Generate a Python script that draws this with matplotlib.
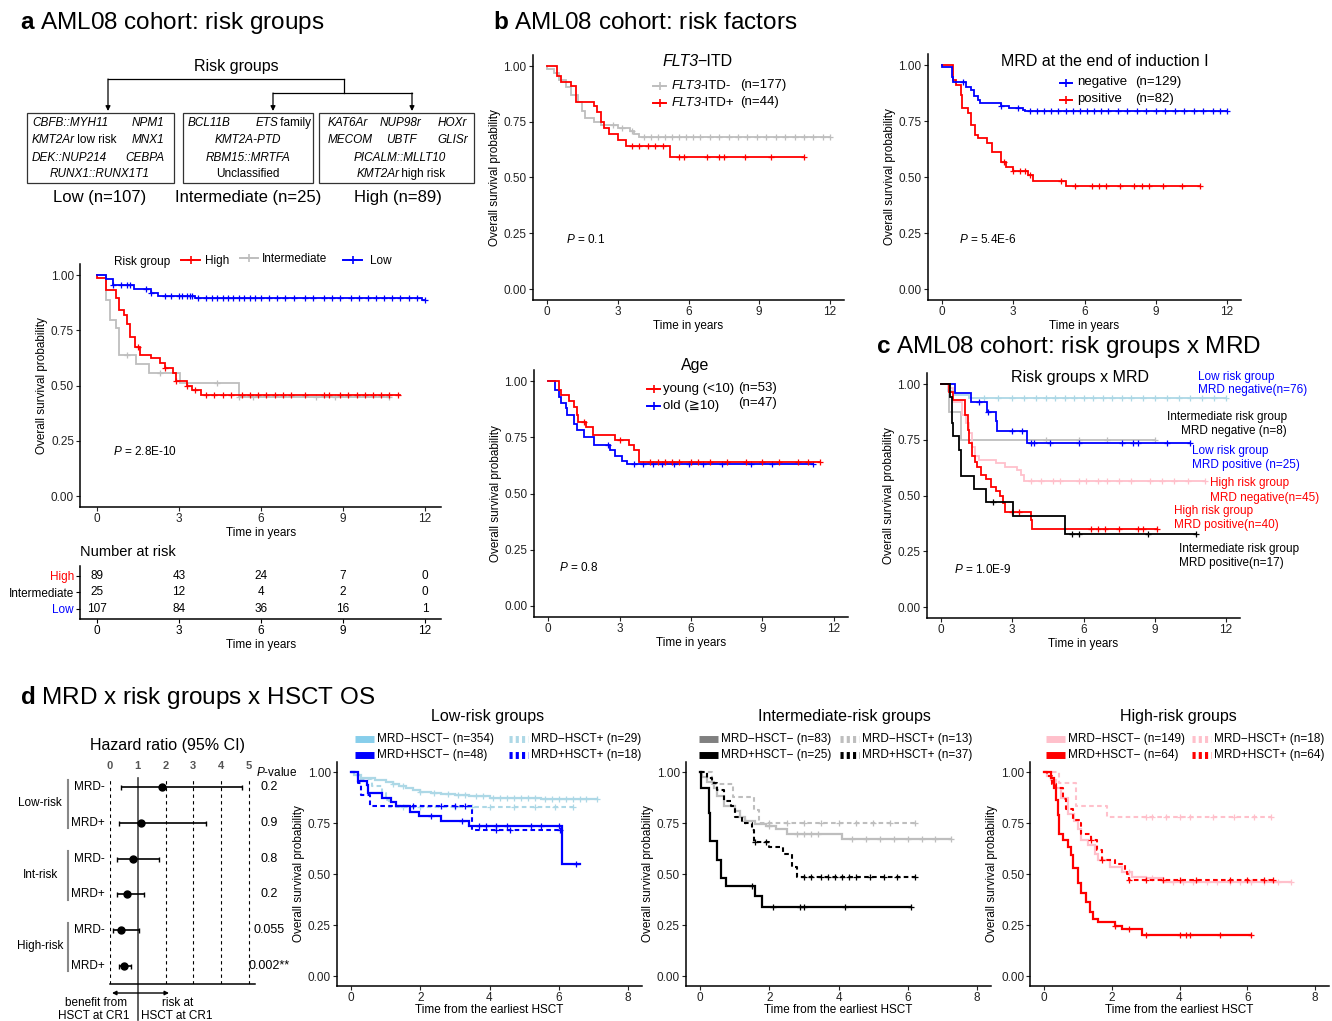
import numpy as np
import matplotlib
matplotlib.use("Agg")
import matplotlib.pyplot as plt
from matplotlib.patches import Rectangle

plt.rcParams['font.family'] = ['Liberation Sans', 'DejaVu Sans', 'Noto Sans CJK JP']
plt.rcParams['mathtext.fontset'] = 'custom'
plt.rcParams['mathtext.rm'] = 'Liberation Sans'
plt.rcParams['mathtext.it'] = 'Liberation Sans:italic'
plt.rcParams['mathtext.bf'] = 'Liberation Sans:bold'

RED, BLUE, GREY = '#FF0000', '#0000FF', '#BEBEBE'
LBLUE, PINK = '#ADD8E6', '#FFC0CB'

# ---------------- data ----------------
# a: risk groups (drop times / survival after drop / last follow-up / censor times)
a_low_t = [0.35, 0.6, 1.35, 2.0, 2.25, 3.6, 11.9]
a_low_s = [0.98, 0.955, 0.935, 0.92, 0.905, 0.894, 0.885]
a_low_end = 12.0
a_low_c = [0.6, 0.9, 1.1, 1.2, 1.8, 2.0, 2.5, 2.7, 3.0, 3.1, 3.3, 3.4, 3.5, 3.7, 4.0, 4.2, 4.4,
           4.6, 4.8, 5.0, 5.2, 5.4, 5.6, 5.8, 6.0, 6.3, 6.6, 6.9, 7.2, 7.6, 7.9, 8.3, 8.6,
           8.9, 9.3, 9.6, 9.9, 10.2, 10.5, 10.8, 11.1, 11.4, 11.7, 12.0]
a_high_t = [0.0, 0.35, 0.7, 0.8, 1.0, 1.1, 1.2, 1.4, 1.6, 2.0, 2.3, 2.5, 2.8, 2.9, 3.3, 3.5, 3.8]
a_high_s = [0.985, 0.93, 0.894, 0.84, 0.82, 0.78, 0.72, 0.676, 0.64, 0.623, 0.6, 0.578,
            0.555, 0.522, 0.5, 0.48, 0.457]
a_high_end = 11.1
a_high_c = [1.5, 2.5, 2.9, 3.3, 3.6, 4.0, 4.3, 4.6, 4.9, 5.3, 5.6, 5.9, 6.2, 6.5, 6.8, 7.1,
            7.6, 8.3, 8.5, 8.9, 9.2, 9.5, 9.8, 10.1, 10.4, 10.7, 11.0]
a_int_t = [0.35, 0.5, 0.72, 0.8, 1.45, 1.9, 3.05, 5.2]
a_int_s = [0.887, 0.796, 0.759, 0.638, 0.597, 0.555, 0.51, 0.446]
a_int_end = 10.7
a_int_c = [1.1, 2.3, 4.4, 5.2, 5.7, 8.0, 8.7, 10.7]

risk_times = [0, 3, 6, 9, 12]
nrisk_high = [89, 43, 24, 7, 0]
nrisk_int = [25, 12, 4, 2, 0]
nrisk_low = [107, 84, 36, 16, 1]

# b: FLT3-ITD
flt_neg_t = [0.0, 0.3, 0.5, 0.8, 1.0, 1.3, 1.5, 1.6, 2.0, 2.3, 3.0, 3.5, 3.7, 3.9]
flt_neg_s = [0.988, 0.97, 0.936, 0.906, 0.87, 0.84, 0.80, 0.765, 0.75, 0.735, 0.72, 0.71, 0.697, 0.68]
flt_neg_end = 12.0
flt_neg_c = [2.8, 3.2, 3.6, 4.1, 4.4, 4.7, 5.0, 5.3, 5.6, 5.9, 6.2, 6.5, 6.9, 7.3, 7.7, 8.1,
             8.5, 8.9, 9.3, 9.7, 10.1, 10.5, 10.9, 11.3, 11.7, 12.0]
flt_pos_t = [0.42, 0.6, 1.0, 1.25, 2.0, 2.1, 2.3, 2.4, 2.63, 3.0, 3.35, 5.2]
flt_pos_s = [0.954, 0.93, 0.91, 0.84, 0.82, 0.794, 0.75, 0.72, 0.697, 0.668, 0.64, 0.593]
flt_pos_end = 10.9
flt_pos_c = [3.6, 3.9, 4.3, 4.6, 4.9, 5.6, 5.8, 6.8, 7.3, 7.5, 8.4, 9.5, 10.9]

# b: MRD at end of induction I
mrd_neg_t = [0.0, 0.4, 0.45, 1.0, 1.2, 1.35, 1.5, 1.6, 2.5, 2.8, 3.4, 3.5]
mrd_neg_s = [0.99, 0.948, 0.926, 0.903, 0.888, 0.862, 0.844, 0.829, 0.818, 0.81, 0.80, 0.795]
mrd_neg_end = 12.0
mrd_neg_c = [0.9, 2.5, 3.2, 3.7, 4.0, 4.3, 4.6, 4.9, 5.2, 5.5, 5.8, 6.1, 6.4, 6.7, 7.0, 7.4,
             7.8, 8.2, 8.6, 9.0, 9.4, 9.8, 10.2, 10.6, 11.0, 11.4, 11.7, 12.0]
mrd_pos_t = [0.45, 0.6, 0.8, 0.85, 1.1, 1.2, 1.4, 1.5, 1.9, 2.1, 2.5, 2.7, 3.0, 3.6, 3.85, 5.2]
mrd_pos_s = [0.933, 0.91, 0.866, 0.807, 0.784, 0.732, 0.688, 0.673, 0.65, 0.61, 0.568, 0.543,
             0.527, 0.51, 0.48, 0.46]
mrd_pos_end = 10.85
mrd_pos_c = [2.6, 3.0, 3.3, 3.5, 3.7, 5.0, 5.6, 6.3, 6.6, 6.9, 7.5, 8.1, 8.4, 8.7, 9.3, 10.1, 10.85]

# b: age
age_y_t = [0.45, 0.55, 0.9, 1.1, 1.2, 1.25, 1.6, 1.9, 2.8, 3.4, 3.6, 3.8]
age_y_s = [0.96, 0.94, 0.911, 0.883, 0.85, 0.82, 0.797, 0.76, 0.738, 0.715, 0.693, 0.638]
age_y_end = 11.4
age_y_c = [1.5, 3.0, 4.3, 4.6, 4.9, 5.2, 5.5, 6.0, 6.3, 6.8, 7.5, 8.3, 9.0, 9.7, 10.5, 10.9, 11.4]
age_o_t = [0.3, 0.45, 0.55, 0.75, 0.8, 1.1, 1.2, 1.5, 1.95, 2.6, 2.8, 3.1, 3.3]
age_o_s = [0.96, 0.93, 0.90, 0.878, 0.849, 0.81, 0.782, 0.749, 0.715, 0.693, 0.666, 0.645, 0.629]
age_o_end = 11.1
age_o_c = [2.5, 3.6, 4.0, 4.4, 4.8, 5.3, 5.9, 6.5, 7.3, 8.5, 9.4, 11.1]

# c: risk group x MRD
c_lowneg_t = [0.3, 0.6, 1.2]
c_lowneg_s = [0.97, 0.95, 0.936]
c_lowneg_end = 12.0
c_lowneg_c = [1.8, 2.4, 3.0, 3.5, 4.0, 4.4, 4.8, 5.2, 5.6, 6.0, 6.4, 6.8, 7.2, 7.6, 8.0, 8.5,
              9.0, 9.5, 10.0, 10.5, 11.0, 11.5, 12.0]
c_lowpos_t = [0.6, 1.25, 1.95, 2.3, 2.35, 3.6]
c_lowpos_s = [0.96, 0.92, 0.876, 0.836, 0.79, 0.734]
c_lowpos_end = 10.5
c_lowpos_c = [1.6, 2.0, 3.0, 3.4, 3.8, 3.9, 4.6, 5.8, 7.6, 8.1, 8.3, 9.5, 10.5]
c_intneg_t = [0.35, 0.85]
c_intneg_s = [0.875, 0.75]
c_intneg_end = 9.0
c_intneg_c = [4.4, 5.8, 7.0, 9.0]
c_intpos_t = [0.4, 0.45, 0.5, 0.75, 0.85, 1.4, 1.9, 3.05, 5.2]
c_intpos_s = [0.941, 0.824, 0.765, 0.706, 0.588, 0.529, 0.471, 0.41, 0.328]
c_intpos_end = 10.75
c_intpos_c = [2.2, 5.5, 5.8, 8.7, 10.75]
c_highneg_t = [0.3, 0.5, 0.9, 1.05, 1.2, 1.3, 1.45, 1.6, 2.3, 2.7, 3.2, 3.35, 3.5]
c_highneg_s = [0.98, 0.92, 0.86, 0.827, 0.779, 0.716, 0.678, 0.66, 0.645, 0.63, 0.615, 0.592, 0.567]
c_highneg_end = 11.1
c_highneg_c = [3.8, 4.2, 4.7, 5.0, 5.8, 6.1, 6.6, 7.0, 7.5, 8.0, 8.8, 9.3, 9.8, 10.4, 11.1]
c_highpos_t = [0.35, 0.5, 1.0, 1.15, 1.2, 1.3, 1.45, 1.5, 1.7, 1.9, 2.1, 2.3, 2.5, 2.6, 2.7, 3.8, 3.85]
c_highpos_s = [0.966, 0.928, 0.86, 0.794, 0.734, 0.675, 0.65, 0.63, 0.593, 0.575, 0.54, 0.522,
               0.496, 0.466, 0.424, 0.388, 0.349]
c_highpos_end = 9.1
c_highpos_c = [3.0, 3.3, 6.3, 6.6, 6.9, 7.5, 8.3, 8.5, 9.1]

# d: forest plot
hr_labels = ['MRD-', 'MRD+', 'MRD-', 'MRD+', 'MRD-', 'MRD+']
hr_groups = ['Low-risk', 'Int-risk', 'High-risk']
hr_est = [1.87, 1.12, 0.84, 0.60, 0.38, 0.50]
hr_lo = [0.38, 0.34, 0.26, 0.26, 0.12, 0.34]
hr_hi = [4.75, 3.45, 1.77, 1.24, 1.06, 0.76]
hr_p = ['0.2', '0.9', '0.8', '0.2', '0.055', '0.002**']

# d: OS from earliest HSCT
dl_nn_t = [0.1, 0.3, 0.7, 1.0, 1.2, 1.4, 1.6, 1.8, 2.0, 2.3, 2.6, 3.0, 3.4, 4.0, 5.5]
dl_nn_s = [0.985, 0.971, 0.96, 0.949, 0.94, 0.93, 0.92, 0.91, 0.903, 0.897, 0.892, 0.887, 0.881, 0.874, 0.87]
dl_nn_end = 7.1
dl_nn_c = [1.2, 1.5, 2.0, 2.4, 2.8, 3.1, 3.3, 3.6, 3.8, 4.1, 4.3, 4.5, 4.7, 4.9, 5.1, 5.3,
           5.6, 5.8, 6.0, 6.2, 6.4, 6.6, 6.8, 7.1]
dl_np_t = [0.2, 0.6, 0.9, 1.0, 1.1]
dl_np_s = [0.966, 0.931, 0.897, 0.862, 0.828]
dl_np_end = 6.4
dl_np_c = [1.5, 2.0, 3.0, 3.5, 4.0, 4.7, 5.3, 5.9, 6.4]
dl_pn_t = [0.2, 0.45, 0.5, 0.9, 1.15, 1.3, 1.7, 1.95, 2.6, 3.4, 6.1]
dl_pn_s = [0.958, 0.937, 0.896, 0.875, 0.854, 0.833, 0.806, 0.783, 0.76, 0.733, 0.55]
dl_pn_end = 6.6
dl_pn_c = [2.3, 3.2, 3.7, 3.9, 4.2, 4.5, 5.2, 5.5, 6.0, 6.5]
dl_pp_t = [0.2, 0.3, 0.55, 3.5]
dl_pp_s = [0.944, 0.889, 0.833, 0.714]
dl_pp_end = 6.05
dl_pp_c = [1.8, 2.6, 3.0, 3.3, 4.2, 4.6, 6.05]

di_nn_t = [0.05, 0.2, 0.4, 0.5, 0.7, 1.0, 1.15, 1.3, 1.6, 1.9, 2.2, 2.5, 4.1]
di_nn_s = [0.976, 0.952, 0.922, 0.88, 0.832, 0.808, 0.78, 0.76, 0.747, 0.734, 0.723, 0.698, 0.674]
di_nn_end = 7.25
di_nn_c = [1.3, 2.0, 2.8, 3.0, 3.2, 3.4, 4.4, 4.8, 5.2, 5.6, 6.0, 6.4, 6.8, 7.25]
di_np_t = [0.35, 0.95, 1.55, 1.7]
di_np_s = [0.94, 0.878, 0.816, 0.752]
di_np_end = 6.2
di_np_c = [2.0, 2.5, 3.0, 3.5, 4.0, 4.5, 5.0, 5.5, 6.2]
di_pn_t = [0.02, 0.25, 0.3, 0.5, 0.6, 0.75, 1.6, 1.8]
di_pn_s = [0.92, 0.8, 0.66, 0.57, 0.48, 0.44, 0.39, 0.34]
di_pn_end = 6.1
di_pn_c = [1.5, 2.1, 2.9, 3.0, 4.2, 6.1]
di_pp_t = [0.2, 0.35, 0.5, 0.7, 0.9, 1.0, 1.2, 1.5, 1.55, 2.0, 2.4, 2.65, 2.8]
di_pp_s = [0.973, 0.946, 0.91, 0.86, 0.832, 0.78, 0.75, 0.714, 0.657, 0.633, 0.597, 0.535, 0.483]
di_pp_end = 6.2
di_pp_c = [1.6, 1.9, 3.0, 3.2, 3.5, 3.7, 3.9, 4.1, 4.3, 4.5, 4.9, 5.3, 5.7, 6.2]

dh_nn_t = [0.1, 0.2, 0.35, 0.5, 0.7, 0.9, 1.0, 1.1, 1.3, 1.5, 1.6, 1.95, 2.3, 2.6, 3.0, 3.5]
dh_nn_s = [0.98, 0.96, 0.92, 0.873, 0.796, 0.76, 0.723, 0.666, 0.641, 0.60, 0.568, 0.535,
           0.511, 0.486, 0.478, 0.462]
dh_nn_end = 7.3
dh_nn_c = [2.5, 3.2, 3.8, 4.1, 4.4, 4.8, 5.1, 5.5, 5.8, 6.1, 6.5, 6.9, 7.3]
dh_np_t = [0.45, 0.95, 1.85]
dh_np_s = [0.944, 0.833, 0.778]
dh_np_end = 6.7
dh_np_c = [3.0, 3.2, 3.6, 4.0, 4.3, 5.0, 5.6, 6.2, 6.7]
dh_pn_t = [0.2, 0.3, 0.35, 0.4, 0.45, 0.55, 0.7, 0.8, 0.85, 1.0, 1.1, 1.25, 1.35, 1.45, 1.6,
           2.1, 2.3, 2.9]
dh_pn_s = [0.97, 0.92, 0.861, 0.788, 0.698, 0.666, 0.633, 0.592, 0.527, 0.457, 0.405, 0.364,
           0.315, 0.277, 0.266, 0.245, 0.228, 0.20]
dh_pn_end = 6.1
dh_pn_c = [2.1, 2.5, 3.0, 4.0, 4.2, 4.3, 5.2, 6.1]
dh_pp_t = [0.1, 0.25, 0.35, 0.55, 0.65, 0.85, 1.05, 1.1, 1.4, 1.55, 1.7, 2.1, 2.4, 2.45, 2.5]
dh_pp_s = [0.98, 0.94, 0.92, 0.87, 0.82, 0.763, 0.75, 0.698, 0.666, 0.617, 0.568, 0.55, 0.519, 0.50, 0.47]
dh_pp_end = 6.75
dh_pp_c = [1.4, 1.7, 2.5, 3.0, 3.5, 4.0, 4.5, 5.5, 6.0, 6.5, 6.75]

# ---------------- figure ----------------
W, H = 1332, 1021
fig = plt.figure(figsize=(W / 100, H / 100), dpi=100)
renderer = fig.canvas.get_renderer()

ov = fig.add_axes([0, 0, 1, 1])
ov.set_xlim(0, W)
ov.set_ylim(H, 0)
ov.axis('off')
ov.set_zorder(10)
ov.patch.set_visible(False)


def txt(x, y, s, size=8.5, ha='left', **kw):
    return ov.text(x, y, s, fontsize=size, ha=ha, va='center', **kw)


def runs(x, y, parts, size=8.5, ha='left', color='black'):
    # parts: (string, italic) pieces laid side by side
    objs, widths = [], []
    for s, it in parts:
        t = ov.text(0, y, s, fontsize=size, va='center', color=color,
                    style='italic' if it else 'normal')
        objs.append(t)
        w = t.get_window_extent(renderer).width
        widths.append(w - 1.5 if (it and len(parts) > 1) else w)
    total = sum(widths)
    start = {'left': x, 'center': x - total / 2, 'right': x - total}[ha]
    for t, w in zip(objs, widths):
        t.set_x(start)
        start += w


def px_axes(left, right, top, bottom):
    return fig.add_axes([left / W, 1 - bottom / H, (right - left) / W, (bottom - top) / H])


def km_axes(x0, x1, y1, y0, xmax, step, lsize=8.5):
    ux = (x1 - x0) / xmax
    uy = y0 - y1
    ax = px_axes(x0 - 0.05 * xmax * ux, x1 + 0.05 * xmax * ux, y1 - 0.05 * uy, y0 + 0.05 * uy)
    ax.set_xlim(-0.05 * xmax, 1.05 * xmax)
    ax.set_ylim(-0.05, 1.05)
    ax.set_xticks(np.arange(0, xmax + 1, step))
    ax.set_yticks([0, 0.25, 0.5, 0.75, 1.0])
    ax.set_yticklabels(['0.00', '0.25', '0.50', '0.75', '1.00'])
    for s in ['top', 'right']:
        ax.spines[s].set_visible(False)
    for s in ['left', 'bottom']:
        ax.spines[s].set_linewidth(1.1)
    ax.tick_params(direction='out', length=3, width=0.8, labelsize=lsize, pad=1.5, colors='#222222')
    ax.patch.set_visible(False)
    ax.set_ylabel('Overall survival probability', fontsize=8.5, labelpad=2)
    return ax


def km_curve(ax, t, s, t_end, cens, color, lw=1.3, ls='-'):
    tt = np.r_[0.0, t, t_end]
    ss = np.r_[1.0, s, s[-1]]
    ax.step(tt, ss, where='post', color=color, lw=lw, ls=ls, solid_joinstyle='miter')
    cens = np.asarray(cens)
    idx = np.searchsorted(tt, cens, side='right') - 1
    ax.plot(cens, ss[idx], ls='none', marker='+', ms=4.5, mew=0.9, color=color)


# ---- panel titles ----
txt(20, 23, r'$\bf{a}$ AML08 cohort: risk groups', size=17.5)
txt(493, 23, r'$\bf{b}$ AML08 cohort: risk factors', size=17.5)
txt(876, 347, r'$\bf{c}$ AML08 cohort: risk groups x MRD', size=17.5)
txt(20, 697, r'$\bf{d}$ MRD x risk groups x HSCT OS', size=17.5)

# ---- panel a: diagram ----
txt(236, 67, 'Risk groups', size=11.5, ha='center')
ov.plot([108, 344], [79, 79], color='black', lw=0.9)
ov.plot([344, 344], [79, 93], color='black', lw=0.9)
ov.plot([273, 412], [93, 93], color='black', lw=0.9)
for xa, ya in [(108, 79), (273, 93), (412, 93)]:
    ov.annotate('', xy=(xa, 111), xytext=(xa, ya),
                arrowprops=dict(arrowstyle='-|>', lw=0.9, color='black', mutation_scale=7,
                                shrinkA=0, shrinkB=0))
for bx0, bx1 in [(27, 174), (183, 313), (319, 474)]:
    ov.add_patch(Rectangle((bx0, 113), bx1 - bx0, 70, fill=False, lw=0.9, ec='#333333'))
rows_y = [123, 140, 158, 174]
runs(32, rows_y[0], [('CBFB::MYH11', True)])
runs(164, rows_y[0], [('NPM1', True)], ha='right')
runs(32, rows_y[1], [('KMT2Ar', True), (' low risk', False)])
runs(164, rows_y[1], [('MNX1', True)], ha='right')
runs(32, rows_y[2], [('DEK::NUP214', True)])
runs(164, rows_y[2], [('CEBPA', True)], ha='right')
runs(100, rows_y[3], [('RUNX1::RUNX1T1', True)], ha='center')
runs(188, rows_y[0], [('BCL11B', True)])
runs(311, rows_y[0], [('ETS', True), (' family', False)], ha='right')
runs(248, rows_y[1], [('KMT2A-PTD', True)], ha='center')
runs(248, rows_y[2], [('RBM15::MRTFA', True)], ha='center')
runs(248, rows_y[3], [('Unclassified', False)], ha='center')
runs(328, rows_y[0], [('KAT6Ar', True)])
runs(380, rows_y[0], [('NUP98r', True)])
runs(438, rows_y[0], [('HOXr', True)])
runs(328, rows_y[1], [('MECOM', True)])
runs(386, rows_y[1], [('UBTF', True)])
runs(437, rows_y[1], [('GLISr', True)])
runs(400, rows_y[2], [('PICALM::MLLT10', True)], ha='center')
runs(401, rows_y[3], [('KMT2Ar', True), (' high risk', False)], ha='center')
txt(100, 197, 'Low (n=107)', 12, ha='center')
txt(248, 197, 'Intermediate (n=25)', 12, ha='center')
txt(398, 197, 'High (n=89)', 12, ha='center')

# ---- panel a: KM ----
axa = km_axes(96.7, 425, 275, 496, 12, 3)
km_curve(axa, a_int_t, a_int_s, a_int_end, a_int_c, GREY)
km_curve(axa, a_high_t, a_high_s, a_high_end, a_high_c, RED)
km_curve(axa, a_low_t, a_low_s, a_low_end, a_low_c, BLUE)
axa.set_xlabel('Time in years', fontsize=8.5, labelpad=1)
axa.text(0.6, 0.2, r'$\it{P}$ = 2.8E-10', fontsize=8.5, va='center')
txt(114, 262, 'Risk group', 8.5)
for (k0, k1, ky, col, lab, lx) in [(181, 200, 260, RED, 'High', 205),
                                   (240, 258, 258, GREY, 'Intermediate', 262),
                                   (343, 362, 260, BLUE, 'Low', 370)]:
    ov.plot([k0, k1], [ky, ky], color=col, lw=1.4)
    ov.plot([(k0 + k1) / 2], [ky], marker='+', ms=6, mew=1.2, color=col)
    txt(lx, ky + 1, lab, 8.5)

# risk table
axt = px_axes(80.3, 441.4, 566, 619)
axt.set_xlim(-0.6, 12.6)
axt.set_ylim(0.39, 3.6)
for row, counts in zip([3, 2, 1], [nrisk_high, nrisk_int, nrisk_low]):
    for tm, n in zip(risk_times, counts):
        axt.text(tm, row, str(n), ha='center', va='center', fontsize=8.5)
axt.set_xticks(risk_times)
axt.set_yticks([3, 2, 1])
axt.set_yticklabels(['High', 'Intermediate', 'Low'])
for lab, col in zip(axt.get_yticklabels(), [RED, 'black', BLUE]):
    lab.set_color(col)
for s in ['top', 'right']:
    axt.spines[s].set_visible(False)
for s in ['left', 'bottom']:
    axt.spines[s].set_linewidth(1.1)
axt.tick_params(direction='out', length=3, width=0.8, labelsize=8.5, pad=1.5)
axt.set_xlabel('Time in years', fontsize=8.5, labelpad=1)
axt.patch.set_visible(False)
txt(80, 552, 'Number at risk', 10.5)

# ---- panel b: FLT3 ----
axf = km_axes(547, 830, 66, 289, 12, 3, 8.5)
km_curve(axf, flt_neg_t, flt_neg_s, flt_neg_end, flt_neg_c, GREY)
km_curve(axf, flt_pos_t, flt_pos_s, flt_pos_end, flt_pos_c, RED)
axf.set_xlabel('Time in years', fontsize=8.5, labelpad=1)
axf.text(0.8, 0.22, r'$\it{P}$ = 0.1', fontsize=8.5, va='center')
runs(697, 62, [('FLT3', True), ('\u2212ITD', False)], 11.5, ha='center')
for ky, col, lab, nlab in [(86, GREY, '-ITD-', '(n=177)'), (103, RED, '-ITD+', '(n=44)')]:
    ov.plot([653, 666], [ky, ky], color=col, lw=1.4)
    ov.plot([659.5], [ky], marker='+', ms=6, mew=1.2, color=col)
    runs(672, ky, [('FLT3', True), (lab, False)], 9.5)
    txt(740, ky - 1, nlab, 9.5)

# ---- panel b: MRD ----
axm = km_axes(942, 1227, 65, 289, 12, 3, 8.5)
km_curve(axm, mrd_pos_t, mrd_pos_s, mrd_pos_end, mrd_pos_c, RED)
km_curve(axm, mrd_neg_t, mrd_neg_s, mrd_neg_end, mrd_neg_c, BLUE)
axm.set_xlabel('Time in years', fontsize=8.5, labelpad=1)
axm.text(0.7, 0.22, r'$\it{P}$ = 5.4E-6', fontsize=8.5, va='center')
txt(1105, 62, 'MRD at the end of induction I', 11.5, ha='center')
for ky, col, lab, nlab in [(83, BLUE, 'negative', '(n=129)'), (100, RED, 'positive', '(n=82)')]:
    ov.plot([1060, 1072], [ky, ky], color=col, lw=1.4)
    ov.plot([1066], [ky], marker='+', ms=6, mew=1.2, color=col)
    txt(1077, ky - 1, lab, 9.5)
    txt(1135, ky - 1, nlab, 9.5)

# ---- panel b: Age ----
axg = km_axes(548, 834, 381, 606, 12, 3, 8.5)
km_curve(axg, age_o_t, age_o_s, age_o_end, age_o_c, BLUE)
km_curve(axg, age_y_t, age_y_s, age_y_end, age_y_c, RED)
axg.set_xlabel('Time in years', fontsize=8.5, labelpad=1)
axg.text(0.45, 0.17, r'$\it{P}$ = 0.8', fontsize=8.5, va='center')
txt(695, 365, 'Age', 11.5, ha='center')
for ky, col, lab in [(389, RED, 'young (<10)'), (406, BLUE, 'old (\u226710)')]:
    ov.plot([647, 660], [ky, ky], color=col, lw=1.4)
    ov.plot([653.5], [ky], marker='+', ms=6, mew=1.2, color=col)
    txt(663, ky, lab, 9.5)
txt(738, 388, '(n=53)', 9.5)
txt(738, 403, '(n=47)', 9.5)

# ---- panel c ----
axc = km_axes(941, 1226, 384, 607, 12, 3, 8.5)
km_curve(axc, c_lowneg_t, c_lowneg_s, c_lowneg_end, c_lowneg_c, LBLUE)
km_curve(axc, c_intneg_t, c_intneg_s, c_intneg_end, c_intneg_c, GREY)
km_curve(axc, c_highneg_t, c_highneg_s, c_highneg_end, c_highneg_c, PINK)
km_curve(axc, c_lowpos_t, c_lowpos_s, c_lowpos_end, c_lowpos_c, BLUE)
km_curve(axc, c_highpos_t, c_highpos_s, c_highpos_end, c_highpos_c, RED)
km_curve(axc, c_intpos_t, c_intpos_s, c_intpos_end, c_intpos_c, 'black')
axc.set_xlabel('Time in years', fontsize=8.5, labelpad=1)
axc.text(0.55, 0.17, r'$\it{P}$ = 1.0E-9', fontsize=8.5, va='center')
txt(1080, 377, 'Risk groups x MRD', 11.5, ha='center')
cs = 8.5
txt(1198, 377, 'Low risk group', cs, color=BLUE)
txt(1198, 390, 'MRD negative(n=76)', cs, color=BLUE)
txt(1287, 417, 'Intermediate risk group', cs, ha='right')
txt(1287, 431, 'MRD negative (n=8)', cs, ha='right')
txt(1192, 451, 'Low risk group', cs, color=BLUE)
txt(1192, 465, 'MRD positive (n=25)', cs, color=BLUE)
txt(1210, 483, 'High risk group', cs, color=RED)
txt(1210, 498, 'MRD negative(n=45)', cs, color=RED)
txt(1174, 511, 'High risk group', cs, color=RED)
txt(1174, 525, 'MRD positive(n=40)', cs, color=RED)
txt(1179, 549, 'Intermediate risk group', cs)
txt(1179, 563, 'MRD positive(n=17)', cs)

# ---- panel d: forest ----
axh = px_axes(110, 255, 778, 984)
axh.set_xlim(0, 5.22)
axh.set_ylim(5.50, -0.25)
rows = np.arange(len(hr_est))
est = np.array(hr_est)
axh.errorbar(est, rows, xerr=[est - np.array(hr_lo), np.array(hr_hi) - est], fmt='o',
             color='black', ms=5, lw=1.2, capsize=1.8, capthick=1.0, zorder=3)
for v in [0, 2, 3, 4, 5]:
    axh.axvline(v, color='black', lw=0.8, ls=(0, (3, 3)))
axh.axvline(1, ymin=-0.175, ymax=1, color='#444444', lw=1.2, clip_on=False)
for r, lab, p in zip(rows, hr_labels, hr_p):
    axh.text(-0.18, r, lab, ha='right', va='center', fontsize=8.5)
    axh.text(5.72, r, p, ha='center', va='center', fontsize=9)
for g, name in enumerate(hr_groups):
    axh.plot([-1.51, -1.51], [2 * g - 0.2, 2 * g + 1.15], color='#888888', lw=1.5, clip_on=False)
    axh.text(-2.52, 2 * g + 0.45, name, ha='center', va='center', fontsize=8.5)
axh.set_xticks([0, 1, 2, 3, 4, 5])
axh.set_yticks([])
axh.tick_params(axis='x', top=True, labeltop=True, bottom=False, labelbottom=False,
                length=0, pad=5, labelsize=8, labelcolor='#555555')
for lab in axh.get_xticklabels():
    lab.set_fontweight('bold')
for s in ['top', 'right', 'left']:
    axh.spines[s].set_visible(False)
axh.spines['bottom'].set_linewidth(1.1)
axh.patch.set_visible(False)
txt(167, 745, 'Hazard ratio (95% CI)', 11.5, ha='center')
txt(256, 772, r'$\it{P}$-value', 8.5)
ov.annotate('', xy=(112, 993), xytext=(169, 993),
            arrowprops=dict(arrowstyle='<|-|>', lw=1.0, color='black', mutation_scale=6,
                            shrinkA=0, shrinkB=0))
txt(96, 1003, 'benefit from', 8.5, ha='center')
txt(94, 1016, 'HSCT at CR1', 8.5, ha='center')
txt(178, 1003, 'risk at', 8.5, ha='center')
txt(177, 1016, 'HSCT at CR1', 8.5, ha='center')


# ---- panel d: KM by HSCT ----
def d_panel(x0, x1, title, tcx, curves, keys, kx):
    ax = km_axes(x0, x1, 772, 976, 8, 2, 8.5)
    ax.tick_params(axis='x', pad=1)
    for t, s, e, c, col, ls, lw in curves:
        km_curve(ax, t, s, e, c, col, lw=lw, ls=ls)
    ax.set_xlabel('Time from the earliest HSCT', fontsize=8.5, labelpad=0)
    txt(tcx, 716, title, 11.5, ha='center')
    for (lab, col, dotted), (ka, ky) in zip(keys, kx):
        ov.plot([ka, ka + 19], [ky, ky], color=col, lw=5, solid_capstyle='butt',
                ls=(0, (0.45, 0.45)) if dotted else '-')
        txt(ka + 22, ky, lab, 8.5)
    return ax


DASH = (0, (2.2, 1.6))
d_panel(351, 628, 'Low-risk groups', 488,
        [(dl_nn_t, dl_nn_s, dl_nn_end, dl_nn_c, LBLUE, '-', 1.6),
         (dl_np_t, dl_np_s, dl_np_end, dl_np_c, LBLUE, DASH, 1.5),
         (dl_pn_t, dl_pn_s, dl_pn_end, dl_pn_c, BLUE, '-', 1.6),
         (dl_pp_t, dl_pp_s, dl_pp_end, dl_pp_c, BLUE, DASH, 1.5)],
        [('MRD\u2212HSCT\u2212 (n=354)', '#87CEEB', False), ('MRD+HSCT\u2212 (n=48)', BLUE, False),
         ('MRD\u2212HSCT+ (n=29)', LBLUE, True), ('MRD+HSCT+ (n=18)', BLUE, True)],
        [(355, 739), (355, 755), (509, 739), (509, 755)])
d_panel(700, 977, 'Intermediate-risk groups', 844,
        [(di_nn_t, di_nn_s, di_nn_end, di_nn_c, GREY, '-', 1.6),
         (di_np_t, di_np_s, di_np_end, di_np_c, GREY, DASH, 1.5),
         (di_pn_t, di_pn_s, di_pn_end, di_pn_c, 'black', '-', 1.6),
         (di_pp_t, di_pp_s, di_pp_end, di_pp_c, 'black', DASH, 1.5)],
        [('MRD\u2212HSCT\u2212 (n=83)', '#808080', False), ('MRD+HSCT\u2212 (n=25)', 'black', False),
         ('MRD\u2212HSCT+ (n=13)', GREY, True), ('MRD+HSCT+ (n=37)', 'black', True)],
        [(699, 739), (699, 755), (840, 739), (840, 755)])
d_panel(1044, 1315, 'High-risk groups', 1178,
        [(dh_nn_t, dh_nn_s, dh_nn_end, dh_nn_c, PINK, '-', 1.6),
         (dh_np_t, dh_np_s, dh_np_end, dh_np_c, PINK, DASH, 1.5),
         (dh_pn_t, dh_pn_s, dh_pn_end, dh_pn_c, RED, '-', 1.6),
         (dh_pp_t, dh_pp_s, dh_pp_end, dh_pp_c, RED, DASH, 1.5)],
        [('MRD\u2212HSCT\u2212 (n=149)', PINK, False), ('MRD+HSCT\u2212 (n=64)', RED, False),
         ('MRD\u2212HSCT+ (n=18)', PINK, True), ('MRD+HSCT+ (n=64)', RED, True)],
        [(1046, 739), (1046, 755), (1192, 739), (1192, 755)])

fig.savefig('out.png', dpi=100)
